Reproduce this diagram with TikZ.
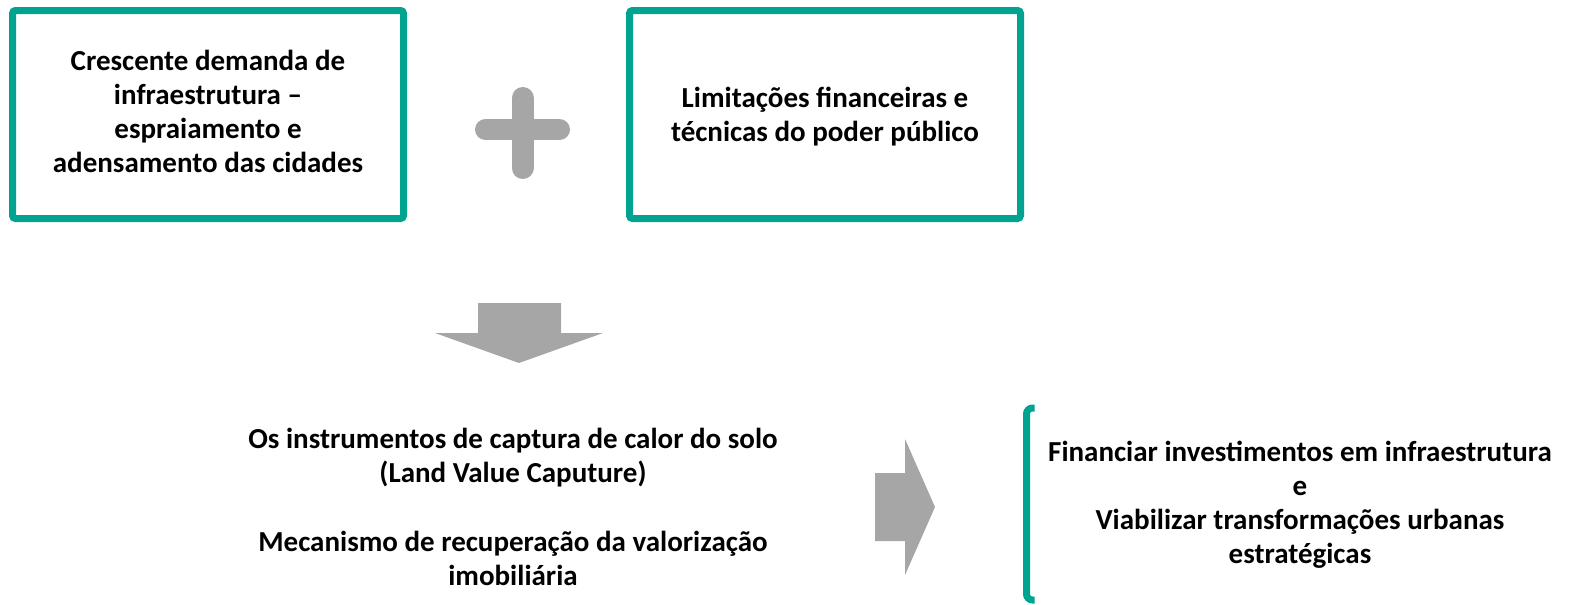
\documentclass[tikz,border=0pt]{standalone}
\usepackage{fontspec}
\setmainfont{Carlito}
\usepackage{tikz}
\usetikzlibrary{positioning, calc}
\definecolor{tealbox}{HTML}{00A390}
\definecolor{greyshape}{HTML}{A6A6A6}
\tikzstyle{cause} = [rectangle, rounded corners=3pt, draw=tealbox, line width=7pt,
fill=white, minimum width=391pt, minimum height=208pt, align=center,
font=\fontsize{29}{34}\selectfont\bfseries]
\tikzstyle{plain} = [align=center, font=\fontsize{29}{34}\selectfont\bfseries]
\tikzstyle{block} = [fill=greyshape, draw=none]
\tikzstyle{bar} = [draw=greyshape, line cap=round]

\begin{document}
\begin{tikzpicture}[x=1pt, y=-1pt]
    \useasboundingbox (0,0) rectangle (1575,605);
    % \draw[help lines, step=50] (0,0) grid (1575,605);
    \node (D) [cause] at (208,114.5) {}; \node (L) [cause] at (825,114.5) {};
    \node (Dt) [plain] at (208,111) {Crescente demanda de\\ infraestrutura --\\
      espraiamento e\\ adensamento das cidades}; \node (Lt) [plain] at
    (825,117) {Limitações financeiras e\\ técnicas do poder público};
    \node (I) [plain] at (513,507) {Os instrumentos de captura de calor do solo\\
      (Land Value Caputure)\\[35pt] Mecanismo de recuperação da valorização\\
      imobiliária}; \node (F) [plain] at (1300,505) {Financiar investimentos
      em infraestrutura\\ e\\ Viabilizar transformações urbanas\\ estratégicas};

    \coordinate (P) at (522.5,133); % centre of the plus sign
    \draw [bar, line width=22pt] ($(P)+(0,-35)$) -- ($(P)+(0,35)$);
    \draw [bar, line width=21pt] ($(P)+(-37,-3.5)$) -- ($(P)+(37,-3.5)$);

    \fill [block] (478,303) -- (561,303) -- (561,333) -- (603,333) -- (519,363)
    -- (435,333) -- (478,333) -- cycle;
    \fill [block] (875,473) -- (905,473) -- (905,439) -- (935,507) -- (905,575)
    -- (905,541) -- (875,541) -- cycle;

    \coordinate (BT) at (1026.5,408); % bracket ends
    \coordinate (BB) at (1026.5,600);
    \draw [draw=tealbox, line width=7pt, rounded corners=6pt]
    ($(BT)+(8,0)$) -- (BT) -- (BB) -- ($(BB)+(8,0)$);
\end{tikzpicture}
\end{document}
